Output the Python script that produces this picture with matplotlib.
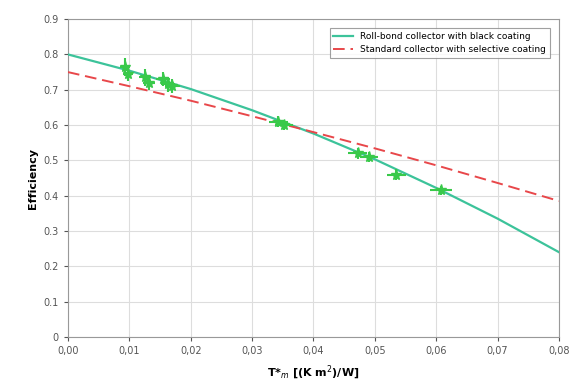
import matplotlib
matplotlib.use("Agg")
import matplotlib.pyplot as plt
from matplotlib.ticker import FixedLocator

# measured points (T*m, efficiency) with rough error bars
meas_x = [0.0093, 0.0098, 0.0125, 0.0132, 0.0155, 0.0163, 0.0170, 0.0343, 0.0352, 0.0472, 0.0490, 0.0535, 0.0608]
meas_y = [0.765, 0.745, 0.735, 0.720, 0.730, 0.715, 0.710, 0.610, 0.600, 0.520, 0.510, 0.460, 0.415]
meas_xerr = [0.0008, 0.0008, 0.0010, 0.0010, 0.0012, 0.0012, 0.0012, 0.0015, 0.0015, 0.0015, 0.0015, 0.0015, 0.0018]
meas_yerr = [0.025, 0.02, 0.025, 0.02, 0.02, 0.02, 0.02, 0.015, 0.015, 0.015, 0.015, 0.015, 0.012]

# efficiency curves
curve_x = [0.00, 0.01, 0.02, 0.03, 0.04, 0.05, 0.06, 0.07, 0.08]
rollbond_y = [0.800, 0.754, 0.702, 0.642, 0.576, 0.503, 0.422, 0.335, 0.240]
standard_y = [0.750, 0.710, 0.669, 0.625, 0.580, 0.534, 0.486, 0.436, 0.385]

x_ticks = [0.00, 0.01, 0.02, 0.03, 0.04, 0.05, 0.06, 0.07, 0.08]
x_labels = ["0,00", "0,01", "0,02", "0,03", "0,04", "0,05", "0,06", "0,07", "0,08"]
y_ticks = [0, 0.1, 0.2, 0.3, 0.4, 0.5, 0.6, 0.7, 0.8, 0.9]
y_labels = ["0", "0.1", "0.2", "0.3", "0.4", "0.5", "0.6", "0.7", "0.8", "0.9"]

fig = plt.figure(figsize=(5.71, 3.9), dpi=100)
ax = fig.add_axes([0.119, 0.136, 0.860, 0.815])

ax.grid(True, color="#dddddd", linewidth=0.8)
ax.set_axisbelow(True)

ax.plot(curve_x, rollbond_y, color="#3cc39a", linewidth=1.6, label="Roll-bond collector with black coating", zorder=3)
ax.plot(curve_x, standard_y, color="#e8474a", linewidth=1.4, linestyle=(0, (6, 3)),
        label="Standard collector with selective coating", zorder=3)
ax.errorbar(meas_x, meas_y, xerr=meas_xerr, yerr=meas_yerr, fmt="*", color="#39c94a",
            markersize=8, elinewidth=1.5, capsize=0, zorder=4)

ax.set_xlim(0, 0.08)
ax.set_ylim(0, 0.9)
ax.xaxis.set_major_locator(FixedLocator(x_ticks))
ax.set_xticklabels(x_labels)
ax.yaxis.set_major_locator(FixedLocator(y_ticks))
ax.set_yticklabels(y_labels)
ax.tick_params(labelsize=7, colors="#555555", length=3)
for s in ax.spines.values():
    s.set_color("#999999")

ax.set_xlabel("T*$_m$ [(K m$^2$)/W]", fontsize=8, fontweight="bold", labelpad=6)
ax.set_ylabel("Efficiency", fontsize=8, fontweight="bold")

leg = ax.legend(loc="upper right", fontsize=6.5, frameon=True, fancybox=False,
                edgecolor="#888888", borderaxespad=1.0, handlelength=2.2)
leg.get_frame().set_linewidth(0.8)

fig.savefig("out.png", dpi=100)
